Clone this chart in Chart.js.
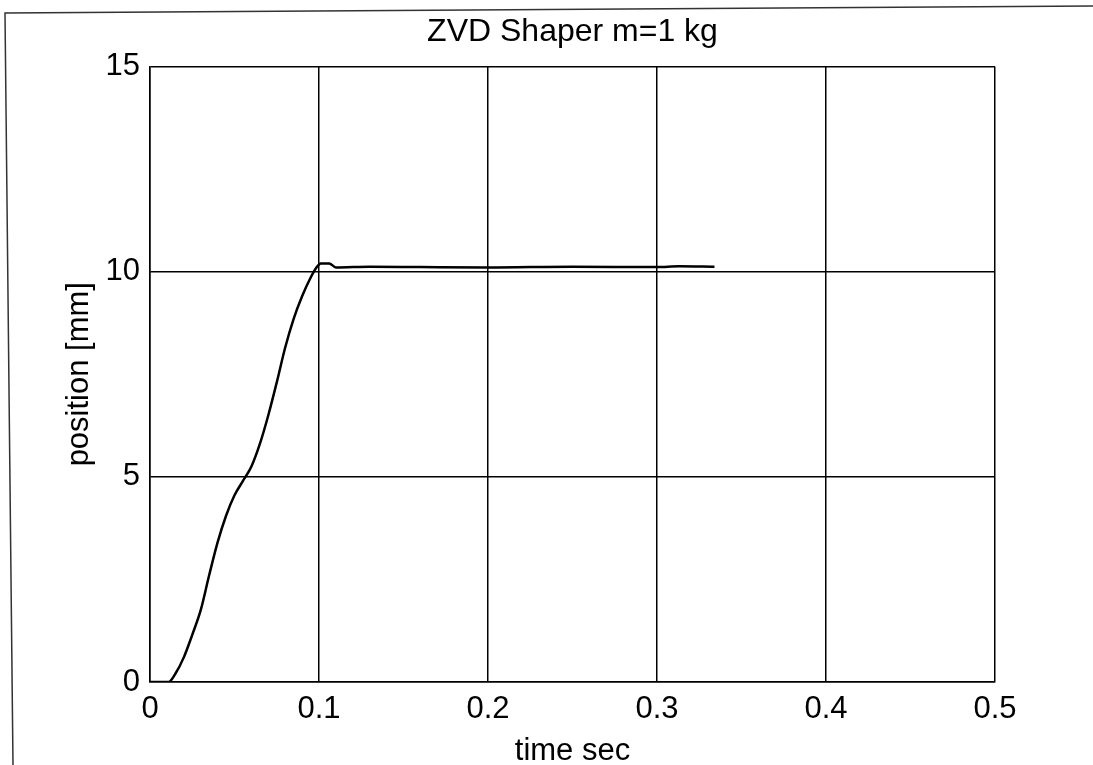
<!DOCTYPE html>
<html>
<head>
<meta charset="utf-8">
<script src="https://cdn.jsdelivr.net/npm/chart.js@4.4.1/dist/chart.umd.min.js"></script>
<style>
  html, body { margin: 0; padding: 0; background: #fff; }
  #wrap { width: 1093px; height: 765px; }
</style>
</head>
<body>
<div id="wrap"><canvas id="myChart" width="1093" height="765"></canvas></div>
<script>
// values
var timeSec = [0, 0.011, 0.015, 0.02, 0.025, 0.03, 0.035, 0.04, 0.045, 0.05, 0.055,
               0.06, 0.065, 0.07, 0.075, 0.08, 0.085, 0.09, 0.095, 0.0985, 0.101,
               0.106, 0.110, 0.13, 0.16, 0.2, 0.25, 0.3, 0.313, 0.334];
var positionMm = [0, 0, 0.2, 0.6, 1.15, 1.75, 2.6, 3.4, 4.05, 4.55, 4.9,
                  5.25, 5.8, 6.5, 7.3, 8.15, 8.85, 9.4, 9.85, 10.1, 10.2,
                  10.2, 10.1, 10.12, 10.11, 10.1, 10.12, 10.11, 10.13, 10.12];
var xTicks = [0, 0.1, 0.2, 0.3, 0.4, 0.5];
var yTicks = [0, 5, 10, 15];
var chartTitle = 'ZVD Shaper m=1 kg';
var xLabel = 'time sec';
var yLabel = 'position [mm]';

var points = timeSec.map(function(t, i) { return { x: t, y: positionMm[i] }; });
var fontFamily = '"Liberation Sans", Arial, Helvetica, sans-serif';

// scanned page frame (top and left edges of the figure border)
var pageFrame = {
    id: 'pageFrame',
    beforeDraw: function(chart) {
        var c = chart.ctx;
        c.save();
        c.strokeStyle = '#333';
        c.lineWidth = 1.5;
        c.beginPath();
        c.moveTo(1093, 6);
        c.lineTo(5, 13);
        c.lineTo(13, 765);
        c.stroke();
        c.restore();
    }
};

var ctx = document.getElementById('myChart').getContext('2d');
var myChart = new Chart(ctx, {
    type: 'line',
    data: {
        datasets: [{
            label: 'position',
            data: points,
            borderColor: '#000',
            borderWidth: 2.5,
            pointRadius: 0,
            fill: false,
            cubicInterpolationMode: 'monotone'
        }]
    },
    options: {
        responsive: false,
        animation: false,
        layout: { padding: { left: 0, right: 98, top: 0, bottom: 0 } },
        plugins: {
            legend: { display: false },
            tooltip: { enabled: false },
            title: {
                display: true,
                fullSize: false, // centre over the plot box
                text: chartTitle,
                color: '#000',
                font: { family: fontFamily, size: 32, weight: 'normal' },
                padding: { top: 13, bottom: 15 }
            }
        },
        scales: {
            x: {
                type: 'linear',
                min: 0,
                max: 0.5,
                afterBuildTicks: function(scale) {
                    scale.ticks = xTicks.map(function(v) { return { value: v }; });
                },
                afterFit: function(scale) { scale.height = 83; },
                grid: { color: '#000', lineWidth: 1.5, drawTicks: false },
                border: { color: '#000', width: 1.5 },
                ticks: {
                    color: '#000',
                    padding: 9,
                    maxRotation: 0,
                    font: { family: fontFamily, size: 31 },
                    callback: function(v) { return String(v); }
                },
                title: {
                    display: true,
                    text: xLabel,
                    color: '#000',
                    font: { family: fontFamily, size: 31, lineHeight: 0.9 },
                    padding: { top: 0, bottom: 0 }
                }
            },
            y: {
                type: 'linear',
                min: 0,
                max: 15,
                afterBuildTicks: function(scale) {
                    scale.ticks = yTicks.map(function(v) { return { value: v }; });
                },
                afterFit: function(scale) { scale.width = 150; },
                grid: { color: '#000', lineWidth: 1.5, drawTicks: false },
                border: { color: '#000', width: 1.5 },
                ticks: {
                    color: '#000',
                    padding: 10,
                    font: { family: fontFamily, size: 31 },
                    callback: function(v) { return String(v); }
                },
                title: {
                    display: true,
                    text: yLabel,
                    color: '#000',
                    font: { family: fontFamily, size: 31 },
                    padding: { top: 61, bottom: 0 }
                }
            }
        }
    },
    plugins: [pageFrame]
});
</script>
</body>
</html>
